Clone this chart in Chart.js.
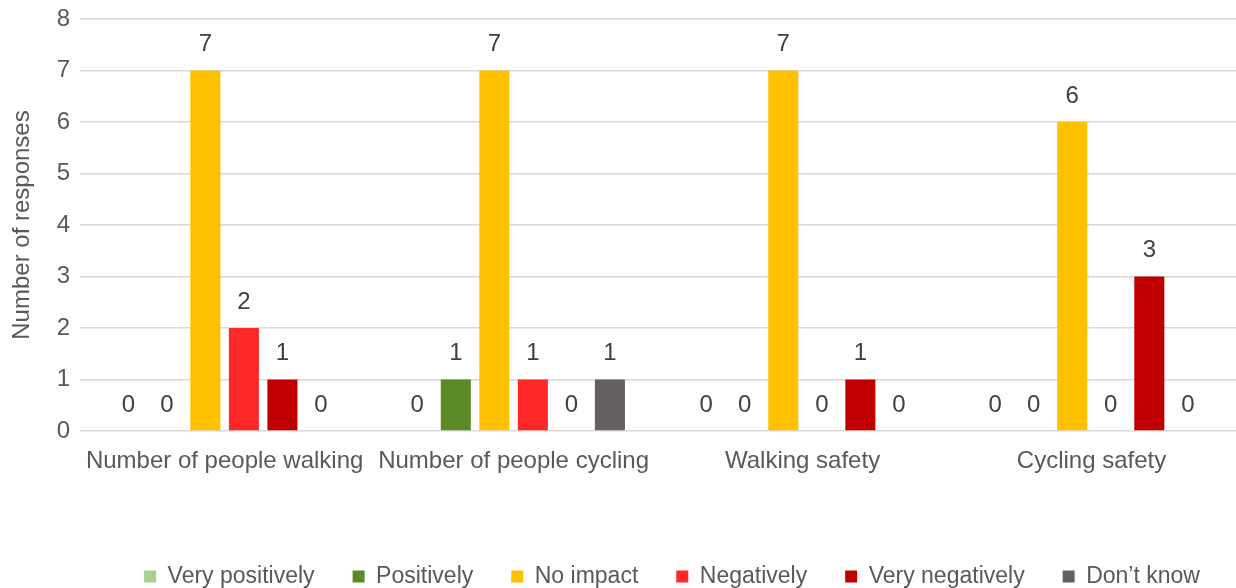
<!DOCTYPE html>
<html>
<head>
<meta charset="utf-8">
<script src="https://cdn.jsdelivr.net/npm/chart.js@4.4.0/dist/chart.umd.min.js"></script>
<style>
  html, body { margin: 0; padding: 0; background: #fff; }
  #wrap { width: 1236px; height: 588px; }
</style>
</head>
<body>
<div id="wrap"><canvas id="impactChart"></canvas></div>
<script>
// data
var categories = ['Number of people walking', 'Number of people cycling', 'Walking safety', 'Cycling safety'];
var seriesNames = ['Very positively', 'Positively', 'No impact', 'Negatively', 'Very negatively', 'Don\u2019t know'];
var veryPositively = [0, 0, 0, 0];
var positively = [0, 1, 0, 0];
var noImpact = [7, 7, 7, 6];
var negatively = [2, 1, 0, 0];
var veryNegatively = [1, 0, 1, 3];
var dontKnow = [0, 1, 0, 0];
var yTicks = [0, 1, 2, 3, 4, 5, 6, 7, 8];

var colours = ['#A9D18E', '#5B8A27', '#FFC000', '#FF2828', '#C00000', '#656060'];
var textColour = '#595959';
var fontFamily = '"Liberation Sans", Arial, sans-serif';
var fontSize = 24;

// labels on top of every bar (no datalabels plugin available offline)
var valueLabels = {
    id: 'valueLabels',
    afterDatasetsDraw: function(chart) {
        var ctx = chart.ctx;
        ctx.save();
        ctx.font = fontSize + 'px ' + fontFamily;
        ctx.fillStyle = '#404040';
        ctx.textAlign = 'center';
        ctx.textBaseline = 'middle';
        chart.data.datasets.forEach(function(ds, i) {
            var meta = chart.getDatasetMeta(i);
            meta.data.forEach(function(bar, j) {
                ctx.fillText(String(ds.data[j]), bar.x, bar.y - 26);
            });
        });
        ctx.restore();
    }
};

// nudge the legend sideways to where it sits in the original
var legendShift = {
    id: 'legendShift',
    afterLayout: function(chart) {
        chart.legend.left += 50;
        chart.legend.right += 50;
    }
};

var allSeries = [veryPositively, positively, noImpact, negatively, veryNegatively, dontKnow];

document.addEventListener('DOMContentLoaded', function() {
    var ctx = document.getElementById('impactChart').getContext('2d');
    var impactChart = new Chart(ctx, {
        type: 'bar',
        data: {
            labels: categories,
            datasets: allSeries.map(function(values, i) {
                return {
                    label: seriesNames[i],
                    data: values,
                    backgroundColor: colours[i],
                    borderWidth: 0,
                    categoryPercentage: 0.8,
                    barPercentage: 0.78
                };
            })
        },
        options: {
            responsive: true,
            maintainAspectRatio: false,
            animation: false,
            layout: { padding: { left: 8, right: 0, top: 19, bottom: -10 } },
            plugins: {
                legend: {
                    position: 'bottom',
                    labels: {
                        color: textColour,
                        font: { family: fontFamily, size: 23 },
                        boxWidth: 12,
                        boxHeight: 12,
                        padding: 38
                    }
                },
                tooltip: { enabled: false }
            },
            scales: {
                x: {
                    grid: { display: false },
                    border: { display: false },
                    ticks: {
                        color: textColour,
                        font: { family: fontFamily, size: fontSize },
                        maxRotation: 0,
                        autoSkip: false,
                        padding: 8
                    },
                    afterFit: function(axis) { axis.height = 96; }
                },
                y: {
                    min: 0,
                    max: 8,
                    afterBuildTicks: function(axis) {
                        axis.ticks = yTicks.map(function(v) { return { value: v }; });
                    },
                    afterFit: function(axis) {
                        axis.paddingTop = 0;
                    },
                    grid: { color: '#D9D9D9', lineWidth: 1.5, drawTicks: false },
                    border: { display: false },
                    ticks: {
                        color: textColour,
                        font: { family: fontFamily, size: fontSize },
                        padding: 10
                    },
                    title: {
                        display: true,
                        text: 'Number of responses',
                        color: textColour,
                        font: { family: fontFamily, size: fontSize },
                        padding: { top: 0, bottom: 10 }
                    }
                }
            }
        },
        plugins: [valueLabels, legendShift]
    });
});
</script>
</body>
</html>
